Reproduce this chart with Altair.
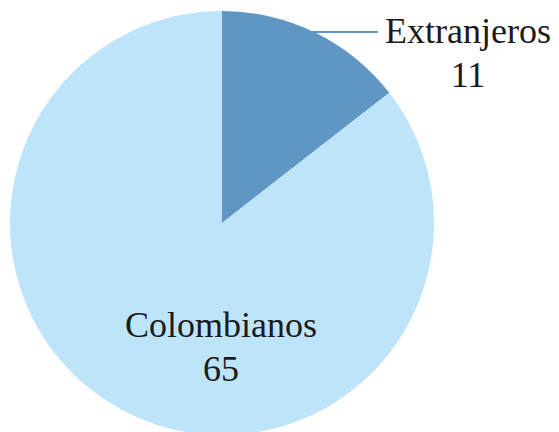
import altair as alt
import pandas as pd

categories = ["Extranjeros", "Colombianos"]
values = [11, 65]
colors = ["#6096C4", "#BEE4F9"]

df = pd.DataFrame({"cat": categories, "val": values, "order": [0, 1]})

base = alt.Chart(df)

pie = base.mark_arc(outerRadius=212, stroke=None).encode(
    theta=alt.Theta("val:Q", stack=True),
    color=alt.Color("cat:N", scale=alt.Scale(domain=categories, range=colors), legend=None),
    order=alt.Order("order:Q"),
)

FONT = "Liberation Serif"

def label_layer(cat, x, y):
    return (
        base.transform_filter(alt.datum.cat == cat)
        .transform_calculate(label="[datum.cat, '' + datum.val]")
        .mark_text(font=FONT, fontSize=36, color="#1a1a1a", align="center",
                   baseline="alphabetic", lineHeight=44)
        .encode(text="label:N", x=alt.value(x), y=alt.value(y))
    )

lab_ext = label_layer("Extranjeros", 460, 35)
lab_col = label_layer("Colombianos", 213, 329)

leader = base.transform_filter(alt.datum.cat == "Extranjeros").mark_rule(
    color="#6096C4", strokeWidth=2
).encode(x=alt.value(302), x2=alt.value(370), y=alt.value(24))

chart = (
    alt.layer(pie, leader, lab_ext, lab_col)
    .properties(width=428, height=430, padding=0)
    .configure_view(stroke=None)
)

chart.save("out.html", embed_options={"renderer": "svg", "actions": False})
